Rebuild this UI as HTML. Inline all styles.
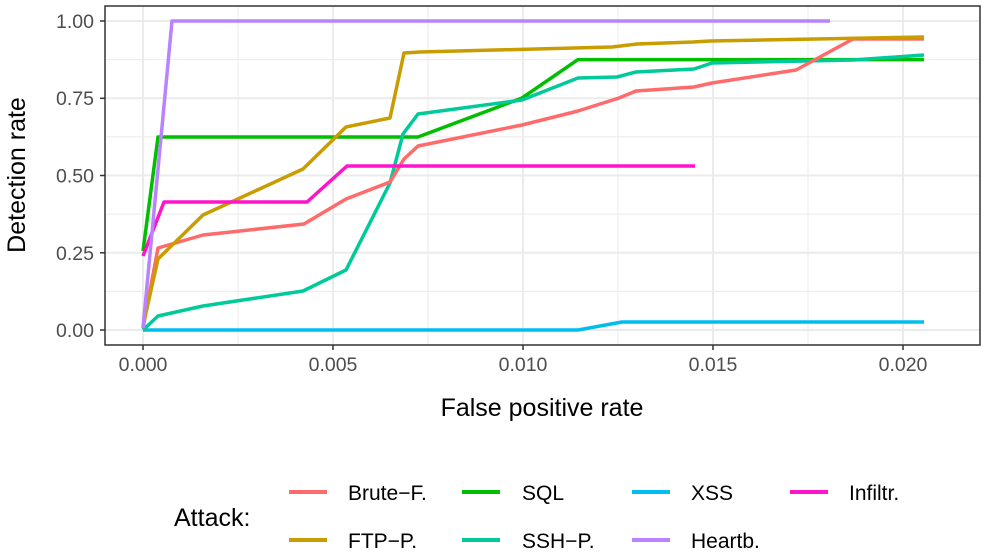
<!DOCTYPE html>
<html><head><meta charset="utf-8"><style>
body{margin:0;background:#fff;}
svg{display:block;font-family:"Liberation Sans",sans-serif;}
</style></head><body>
<svg width="991" height="556" viewBox="0 0 991 556">
<rect width="991" height="556" fill="#fff"/>
<g stroke="#ebebeb" stroke-width="1">
<line x1="105" x2="980" y1="291.4" y2="291.4"/><line x1="105" x2="980" y1="214.1" y2="214.1"/>
<line x1="105" x2="980" y1="136.9" y2="136.9"/><line x1="105" x2="980" y1="59.6" y2="59.6"/>
<line x1="238" x2="238" y1="6" y2="345"/><line x1="428" x2="428" y1="6" y2="345"/>
<line x1="618" x2="618" y1="6" y2="345"/><line x1="808" x2="808" y1="6" y2="345"/>
</g>
<g stroke="#ebebeb" stroke-width="2">
<line x1="105" x2="980" y1="330" y2="330"/><line x1="105" x2="980" y1="252.8" y2="252.8"/>
<line x1="105" x2="980" y1="175.5" y2="175.5"/><line x1="105" x2="980" y1="98.3" y2="98.3"/>
<line x1="105" x2="980" y1="21" y2="21"/>
<line x1="143" x2="143" y1="6" y2="345"/><line x1="333" x2="333" y1="6" y2="345"/>
<line x1="523" x2="523" y1="6" y2="345"/><line x1="713" x2="713" y1="6" y2="345"/>
<line x1="903" x2="903" y1="6" y2="345"/>
</g>
<g fill="none" stroke-width="3.5" stroke-linejoin="round">
<polyline stroke="#00BDEF" points="143,330 578,330 622,322 924,322"/>
<polyline stroke="#00BE00" points="143,251 158,137 418,137 522,98 578,59.6 924,59.6"/>
<polyline stroke="#00C99A" points="143,330 158,316 203,306 303,291 346,270 390,183 403,134 418,114 522,100 578,78 617,77 636,72 694,69 712,63 853,60 924,55"/>
<polyline stroke="#FF6B6B" points="143,328 158,248 203,235 304,224 346,199 390,182 404,159 418,146 522,125 578,111 619,98 636,91 694,87 712,83 796,70 853,39 924,39"/>
<polyline stroke="#C99C00" points="143,326 158,259 203,215 303,169 346,127 390,118 404,53 420,52 612,47 637,44 693,42 710,41 924,37"/>
<polyline stroke="#FF14CC" points="143,256 164,202 307,202 347,166 695,166"/>
<polyline stroke="#B983FF" points="143,328 172,21 830,21"/>
</g>
<rect x="105" y="6" width="875" height="339" fill="none" stroke="#333" stroke-width="1.5"/>
<g stroke="#333" stroke-width="1.5">
<line x1="100" x2="105" y1="330" y2="330"/><line x1="100" x2="105" y1="252.8" y2="252.8"/>
<line x1="100" x2="105" y1="175.5" y2="175.5"/><line x1="100" x2="105" y1="98.3" y2="98.3"/>
<line x1="100" x2="105" y1="21" y2="21"/>
<line x1="143" x2="143" y1="345" y2="350"/><line x1="333" x2="333" y1="345" y2="350"/>
<line x1="523" x2="523" y1="345" y2="350"/><line x1="713" x2="713" y1="345" y2="350"/>
<line x1="903" x2="903" y1="345" y2="350"/>
</g>
<g fill="#4d4d4d" font-size="19.5" text-anchor="end">
<text x="94" y="337">0.00</text><text x="94" y="260">0.25</text><text x="94" y="182.5">0.50</text>
<text x="94" y="105">0.75</text><text x="94" y="28">1.00</text>
</g>
<g fill="#4d4d4d" font-size="19.5" text-anchor="middle">
<text x="143" y="371">0.000</text><text x="333" y="371">0.005</text><text x="523" y="371">0.010</text>
<text x="713" y="371">0.015</text><text x="903" y="371">0.020</text>
</g>
<text x="542" y="416" font-size="25" text-anchor="middle" fill="#000">False positive rate</text>
<text transform="translate(25,175) rotate(-90)" font-size="25" text-anchor="middle" fill="#000">Detection rate</text>
<text x="174" y="526" font-size="25" fill="#000">Attack:</text>
<g stroke-width="4">
<line x1="289" x2="327" y1="492" y2="492" stroke="#FF6B6B"/>
<line x1="289" x2="327" y1="540" y2="540" stroke="#C99C00"/>
<line x1="462" x2="500" y1="492" y2="492" stroke="#00BE00"/>
<line x1="462" x2="500" y1="540" y2="540" stroke="#00C99A"/>
<line x1="632" x2="670" y1="492" y2="492" stroke="#00BDEF"/>
<line x1="632" x2="670" y1="540" y2="540" stroke="#B983FF"/>
<line x1="790" x2="828" y1="492" y2="492" stroke="#FF14CC"/>
</g>
<g font-size="21" fill="#000">
<text x="348" y="500">Brute−F.</text><text x="348" y="548">FTP−P.</text>
<text x="522" y="500">SQL</text><text x="522" y="548">SSH−P.</text>
<text x="691" y="500">XSS</text><text x="691" y="548">Heartb.</text>
<text x="849" y="500">Infiltr.</text>
</g>
</svg>
</body></html>
